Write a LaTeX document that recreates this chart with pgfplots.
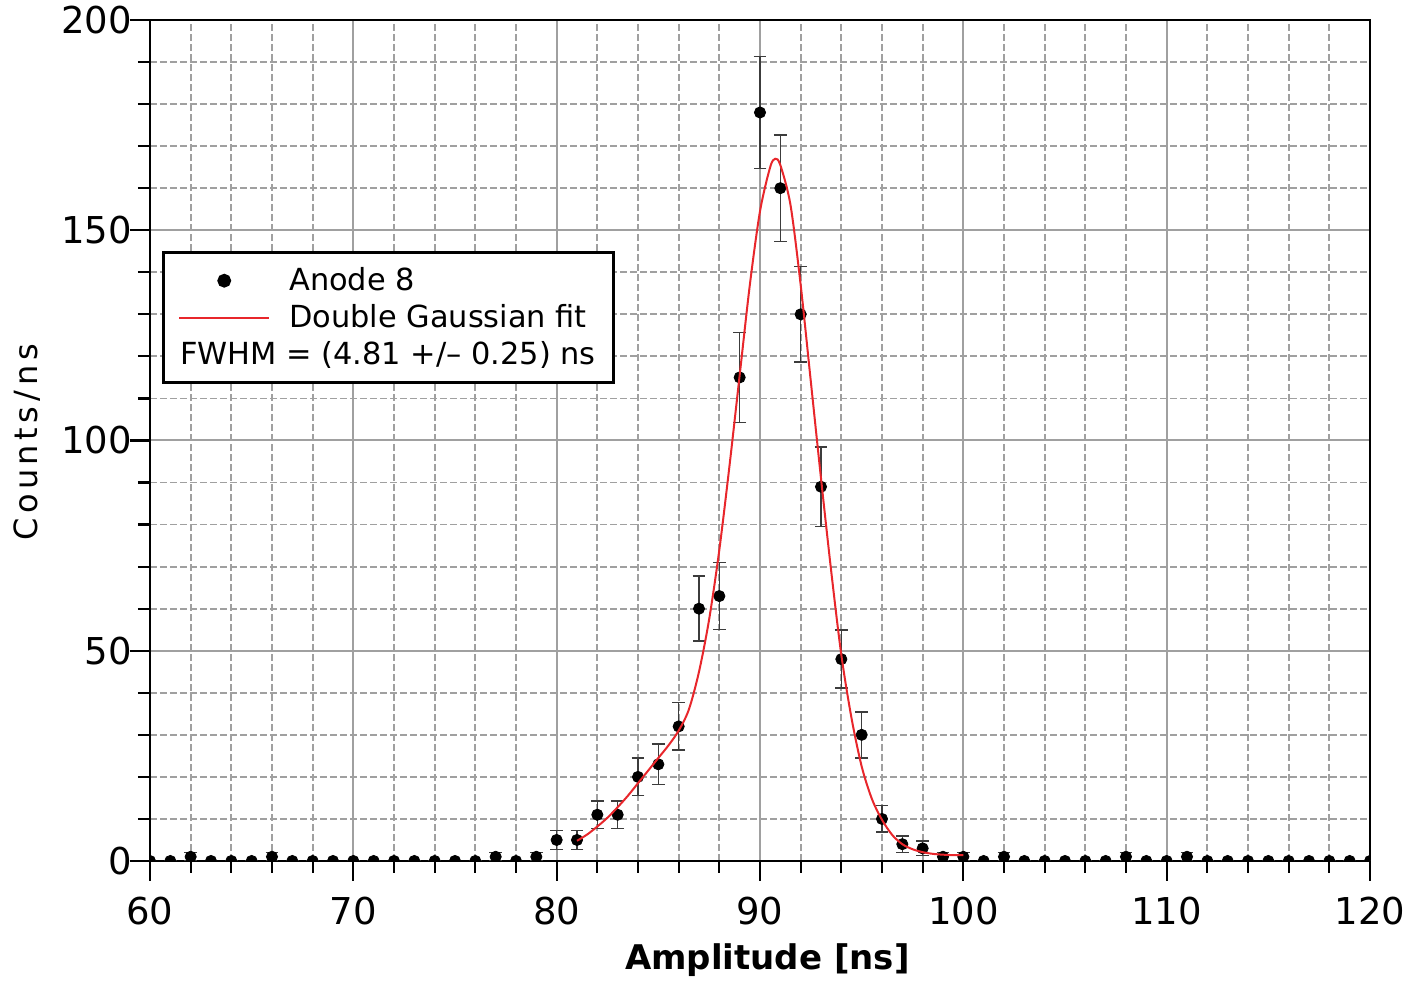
\documentclass[border=0pt]{standalone}
\usepackage{fontspec}
\setmainfont{DejaVu Sans}
\usepackage{pgfplots}
\pgfplotsset{compat=1.18}
\definecolor{fitred}{HTML}{E8262B}
\definecolor{gridgray}{HTML}{A0A0A0}
\definecolor{errgray}{HTML}{3C3C3C}
\pgfplotstableread{
x y e
60 0 0
61 0 0
62 1 1
63 0 0
64 0 0
65 0 0
66 1 1
67 0 0
68 0 0
69 0 0
70 0 0
71 0 0
72 0 0
73 0 0
74 0 0
75 0 0
76 0 0
77 1 1
78 0 0
79 1 1
80 5 2.24
81 5 2.24
82 11 3.32
83 11 3.32
84 20 4.47
85 23 4.80
86 32 5.66
87 60 7.75
88 63 7.94
89 115 10.72
90 178 13.34
91 160 12.65
92 130 11.40
93 89 9.43
94 48 6.93
95 30 5.48
96 10 3.16
97 4 2.00
98 3 1.73
99 1 1
100 1 1
101 0 0
102 1 1
103 0 0
104 0 0
105 0 0
106 0 0
107 0 0
108 1 1
109 0 0
110 0 0
111 1 1
112 0 0
113 0 0
114 0 0
115 0 0
116 0 0
117 0 0
118 0 0
119 0 0
120 0 0
}\datatable
\pgfplotstableread{
x y
81 4.8
81.5 6.3
82 8.2
82.5 10.3
83 12.8
83.5 15.5
84 18.5
84.5 21.5
85 24.5
85.5 27.5
86 31.0
86.5 36.0
87 45.0
87.5 57.5
88 74.0
88.5 94.0
89 115.5
89.5 137.0
90 154.5
90.5 165.0
90.75 167.0
91 165.5
91.5 156.0
92 137.0
92.5 114.0
93 91.0
93.5 69.0
94 49.0
94.5 34.0
95 22.5
95.5 14.8
96 9.8
96.5 6.2
97 4.0
97.5 2.8
98 2.1
98.5 1.7
99 1.5
99.5 1.4
100 1.4
}\fittable
\pgfplotsset{
  marklegend/.style={legend image code/.code={\draw[mark repeat=2,mark phase=2,##1] plot coordinates {(0pt,0pt) (22.5pt,0pt) (45pt,0pt)};}},
  linelegend/.style={legend image code/.code={\draw[##1] (0pt,0pt) -- (45pt,0pt);}},
}
\begin{document}
\begin{tikzpicture}
\begin{axis}[
  scale only axis, width=610pt, height=420.5pt,
  xmin=60, xmax=120, ymin=0, ymax=200,
  xtick={60,70,...,120}, ytick={0,50,...,200},
  minor x tick num=4, minor y tick num=4,
  grid=both,
  major grid style={gridgray, line width=1pt},
  minor grid style={gridgray, line width=0.9pt, dash pattern=on 3.3pt off 1.7pt},
  axis line style={black, line width=1.3pt},
  tick align=outside, xtick pos=left, ytick pos=left,
  major tick length=10pt, minor tick length=6pt,
  every tick/.style={black, line width=1.1pt},
  ticklabel style={font=\fontsize{18.5}{22}\selectfont},
  xticklabel style={yshift=-4.5pt},
  yticklabel style={xshift=4.5pt},
  /pgf/number format/assume math mode=true,
  xlabel={Amplitude [ns]}, ylabel={Counts\,/\,ns},
  xlabel style={font=\bfseries\fontsize{17}{20}\selectfont, at={(axis description cs:0.506,-0.1177)}, anchor=center},
  ylabel style={font=\fontsize{16}{19}\selectfont\addfontfeature{LetterSpace=14}, at={(axis description cs:-0.101,0.498)}, anchor=center},
  clip mode=individual, clip marker paths=true,
  legend style={at={(axis description cs:0.0098,0.7253)}, anchor=north west, draw=black, line width=1.3pt, fill=white,
    font=\fontsize{15.2}{18}\selectfont, row sep=0pt, inner xsep=7.5pt, inner ysep=5pt,
    /tikz/every odd column/.append style={column sep=8pt},
    nodes={text height=12.6pt, text depth=2.8pt, inner sep=1.5pt}},
  legend cell align=left,
]
\coordinate (bl) at (rel axis cs:0,0);
\coordinate (tr) at (rel axis cs:1,1);
\addplot[only marks, mark=*, mark size=2.8pt, black, marklegend,
  error bars/.cd, y dir=both, y explicit,
  error bar style={errgray, line width=0.8pt},
  error mark options={rotate=90, mark size=3.2pt, errgray, line width=0.8pt}]
  table[x=x, y=y, y error=e] {\datatable};
\addlegendentry{Anode 8}
\addplot[fitred, line width=1pt, smooth, linelegend]
  table[x=x, y=y] {\fittable};
\addlegendentry{Double Gaussian fit}
\addlegendimage{empty legend}
\addlegendentry{\hspace*{-54.5pt}FWHM = (4.81 +/– 0.25) ns}
\end{axis}
\pgfresetboundingbox
\path[use as bounding box] ([shift={(-75pt,-61pt)}]bl) rectangle ([shift={(19pt,10pt)}]tr);
\end{tikzpicture}
\end{document}
